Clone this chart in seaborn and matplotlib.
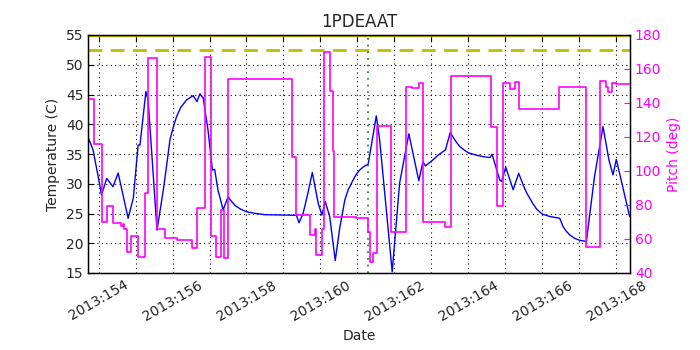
import matplotlib
matplotlib.use('agg')
import matplotlib.pyplot as plt
import seaborn as sns

# day-of-year 2013 for the temperature trace
temp_day = [153.72, 153.85, 153.99, 154.08, 154.22, 154.39, 154.53, 154.80, 154.94, 155.07,
            155.12, 155.28, 155.34, 155.58, 155.75, 155.85, 155.93, 156.02, 156.11, 156.22,
            156.38, 156.56, 156.66, 156.74, 156.83, 156.96, 157.08, 157.14, 157.23, 157.37,
            157.50, 157.60, 157.70, 157.85, 158.00, 158.25, 158.50, 159.35, 159.42, 159.53,
            159.66, 159.78, 159.94, 160.04, 160.13, 160.25, 160.40, 160.52, 160.66, 160.75,
            160.88, 160.97, 161.06, 161.15, 161.29, 161.51, 161.60, 161.94, 162.14, 162.39,
            162.66, 162.77, 162.84, 163.04, 163.18, 163.38, 163.51, 163.64, 163.76, 163.88,
            164.00, 164.22, 164.40, 164.58, 164.64, 164.85, 164.90, 165.01, 165.21, 165.36,
            165.52, 165.60, 165.75, 165.85, 166.00, 166.20, 166.47, 166.56, 166.65, 166.74,
            166.88, 167.01, 167.19, 167.41, 167.64, 167.80, 167.91, 168.00, 168.36]
temp_val = [37.8, 35.7, 31.2, 28.1, 30.9, 29.5, 31.8, 24.2, 27.6, 36.5,
            36.5, 45.5, 44.1, 22.2, 28.9, 33.5, 37.4, 39.5, 41.3, 42.8,
            44.1, 44.8, 43.8, 45.1, 44.4, 39.0, 32.3, 32.4, 28.9, 25.6,
            27.8, 27.0, 26.3, 25.7, 25.3, 25.0, 24.8, 24.7, 23.45, 25.0,
            28.4, 31.9, 26.7, 24.75, 27.0, 24.5, 17.1, 22.5, 27.3, 29.0,
            30.6, 31.6, 32.3, 32.8, 33.3, 41.4, 37.4, 15.2, 30.1, 38.4,
            30.5, 33.7, 33.0, 34.0, 34.8, 35.7, 38.6, 37.3, 36.3, 35.7,
            35.2, 34.8, 34.55, 34.4, 34.95, 30.6, 30.4, 32.8, 29.0, 31.75,
            29.2, 28.2, 26.6, 25.7, 24.9, 24.5, 24.2, 22.8, 22.0, 21.4,
            20.8, 20.5, 20.3, 31.2, 39.6, 34.0, 31.5, 34.1, 24.5]

# pitch steps (value holds from each day until the next)
pitch_day = [153.72, 153.88, 154.08, 154.22, 154.40, 154.62, 154.66, 154.70, 154.78, 154.89,
             155.08, 155.26, 155.34, 155.58, 155.79, 156.11, 156.54, 156.66, 156.87, 157.03,
             157.18, 157.32, 157.39, 157.50, 159.24, 159.35, 159.71, 159.85, 159.87, 160.04,
             160.10, 160.27, 160.34, 160.37, 160.97, 161.29, 161.33, 161.42, 161.52, 161.92,
             162.30, 162.48, 162.66, 162.77, 163.36, 163.52, 164.62, 164.77, 164.94, 165.12,
             165.25, 165.36, 166.46, 167.19, 167.57, 167.71, 167.78, 167.89, 168.00, 168.37]
pitch_val = [142.2, 115.7, 70.2, 79.4, 69.2, 67.5, 69.0, 66.0, 52.2, 62.0,
             49.6, 86.9, 166.5, 65.9, 60.8, 59.4, 54.5, 78.0, 167.3, 61.8,
             49.2, 77.1, 48.6, 153.9, 108.4, 74.1, 62.4, 65.7, 50.6, 65.7,
             170.2, 147.1, 112.0, 73.1, 72.2, 64.3, 46.7, 51.8, 126.5, 63.9,
             149.6, 148.7, 151.6, 70.2, 67.3, 155.7, 126.1, 79.4, 152.0, 148.0,
             152.6, 136.7, 149.6, 55.5, 153.1, 149.2, 146.3, 151.6, 151.0, 151.0]

tick_days = list(range(154, 169))
tick_labels = ['2013:%d' % d if d % 2 == 0 else '' for d in tick_days]
limit_planning = 52.5
limit_caution = 55.0
event_day = 161.29

sns.set_style('white')
plt.rcParams['font.family'] = ['DejaVu Sans']
plt.rcParams['xtick.direction'] = 'in'
plt.rcParams['ytick.direction'] = 'in'

fig = plt.figure(figsize=(7, 3.5), dpi=100)
ax = fig.add_axes([0.126, 0.22, 0.774, 0.68])

sns.lineplot(x=temp_day, y=temp_val, ax=ax, color='b', lw=1, sort=False)
ax.axhline(limit_planning, color='y', ls='--', lw=2, dashes=(5, 3))
ax.axhline(limit_caution, color='y', ls='-', lw=2.5)
ax.axvline(event_day, color='g', ls=(0, (1, 3)), lw=1.2)

ax.set_xlim(153.72, 168.37)
ax.set_ylim(15, 55)
ax.set_yticks(range(15, 56, 5))
ax.set_xticks(tick_days)
ax.set_xticklabels(tick_labels, rotation=30, fontsize=10)
ax.tick_params(axis='y', labelsize=10, length=4, color='k')
ax.tick_params(axis='x', top=True, length=4, color='k')
ax.grid(True, color='k', ls=(0, (1, 3)), lw=0.8)
ax.set_xlabel('Date', fontsize=10)
ax.set_ylabel('Temperature (C)', fontsize=10)
ax.set_title('1PDEAAT', fontsize=12)
for s in ax.spines.values():
    s.set_color('k')
    s.set_linewidth(1)

ax2 = ax.twinx()
sns.lineplot(x=pitch_day, y=pitch_val, ax=ax2, color='#ff00ff', lw=1.2,
             drawstyle='steps-post', sort=False)
ax2.set_ylim(40, 180)
ax2.set_yticks(range(40, 181, 20))
ax2.tick_params(axis='y', colors='#ff00ff', labelsize=10, length=4)
ax2.set_ylabel('Pitch (deg)', color='#ff00ff', fontsize=10)
ax2.set_xlim(153.72, 168.37)
for s in ax2.spines.values():
    s.set_color('k')

fig.savefig('out.png', dpi=100)
